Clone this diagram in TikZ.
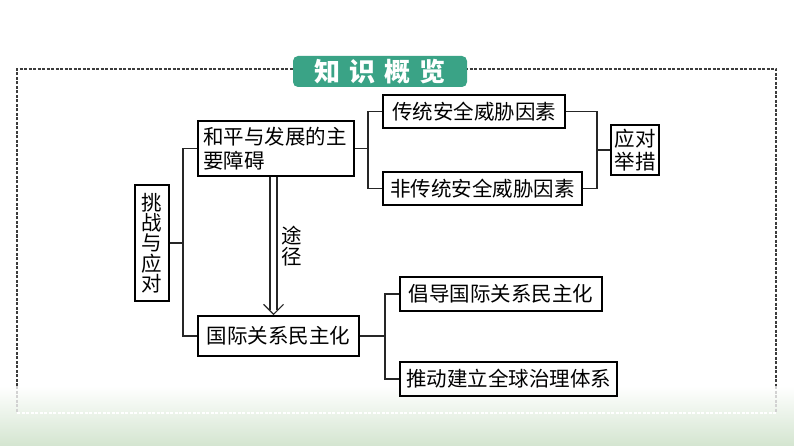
\documentclass[tikz,border=0pt]{standalone}
\usepackage{fontspec}
\setmainfont{Noto Sans CJK SC}
\usetikzlibrary{calc}
\definecolor{tabgreen}{RGB}{58,163,134}
\definecolor{bandgreen}{RGB}{212,229,208}
\definecolor{framegray}{RGB}{60,60,60}
\begin{document}
\begin{tikzpicture}[x=1pt,y=-1pt,
  box/.style={draw=black, line width=1.3pt, inner sep=0pt, font=\fontsize{20.5}{20.5}\selectfont, align=center},
  conn/.style={line width=1.3pt, draw=black!85},
  framedash/.style={line width=1.2pt, dash pattern=on 3pt off 1.5pt}]
\useasboundingbox (0,0) rectangle (794,446);
\shade[top color=white, bottom color=bandgreen] (0,386) rectangle (794,446);
% frame
\draw[framedash, framegray] (17,386) -- (17,69) -- (776,69) -- (776,386);
\draw[framedash, gray!35] (17,386) -- (17,413);
\draw[framedash, gray!35] (776,386) -- (776,413);
\draw[framedash, white] (17,413) -- (776,413);
% title tab
\node[fill=tabgreen, rounded corners=5pt, minimum width=174pt, minimum height=31pt, inner sep=0pt,
      text=white, font=\fontsize{26}{26}\selectfont\bfseries] (title) at (380,71.5)
      {知\hspace{9pt}识\hspace{9pt}概\hspace{9pt}览};
% boxes
\node[box, minimum width=34pt, minimum height=116pt, font=\fontsize{20.5}{20.3}\selectfont] (tz) at (152,243) {挑\\战\\与\\应\\对};
\node[box, minimum width=156pt, minimum height=55pt, text width=146pt, align=left, font=\fontsize{20.5}{24}\selectfont] (hp) at (276,148.5) {和平与发展的主\\要障碍};
\node[box, minimum width=161pt, minimum height=40pt] (gj) at (278.5,336) {国际关系民主化};
\node[box, minimum width=182pt, minimum height=33pt] (ct) at (474,111.5) {传统安全威胁因素};
\node[box, minimum width=199pt, minimum height=33pt] (fct) at (482.5,188.5) {非传统安全威胁因素};
\node[box, minimum width=48pt, minimum height=50pt, font=\fontsize{20.5}{23}\selectfont] (yd) at (635,150) {应对\\举措};
\node[box, minimum width=202pt, minimum height=34pt] (cd) at (501,294) {倡导国际关系民主化};
\node[box, minimum width=217pt, minimum height=34pt] (td) at (508.5,379) {推动建立全球治理体系};
% junctions
\coordinate (j1) at (183,0);
\coordinate (j2) at (368,0);
\coordinate (j3) at (597,0);
\coordinate (j4) at (385,0);
\coordinate (ax) at (273.5,0);
\draw[conn] (tz.east) -- (tz.east -| j1);
\draw[conn] (hp.west) -- (hp.west -| j1) -- (gj.west -| j1) -- (gj.west);
\draw[conn] (hp.east) -- (hp.east -| j2);
\draw[conn] (ct.west) -- (ct.west -| j2) -- (fct.west -| j2) -- (fct.west);
\draw[conn] (ct.east) -- (ct.east -| j3) -- (fct.east -| j3) -- (fct.east);
\draw[conn] (yd.west) -- (yd.west -| j3);
\draw[conn] (gj.east) -- (gj.east -| j4);
\draw[conn] (cd.west) -- (cd.west -| j4) -- (td.west -| j4) -- (td.west);
% double arrow
\draw[conn, line width=1.2pt] ($(hp.south -| ax)+(-3.5,0)$) -- ($(gj.north -| ax)+(-3.5,-5)$);
\draw[conn, line width=1.2pt] ($(hp.south -| ax)+(3.5,0)$) -- ($(gj.north -| ax)+(3.5,-5)$);
\draw[conn, line width=1.2pt] ($(gj.north -| ax)+(-10,-11)$) -- ($(gj.north -| ax)+(0,-1)$) -- ($(gj.north -| ax)+(10,-11)$);
\node[font=\fontsize{20.5}{20.5}\selectfont, align=center, inner sep=0pt] (tj) at (292,246) {途\\径};
\end{tikzpicture}
\end{document}
